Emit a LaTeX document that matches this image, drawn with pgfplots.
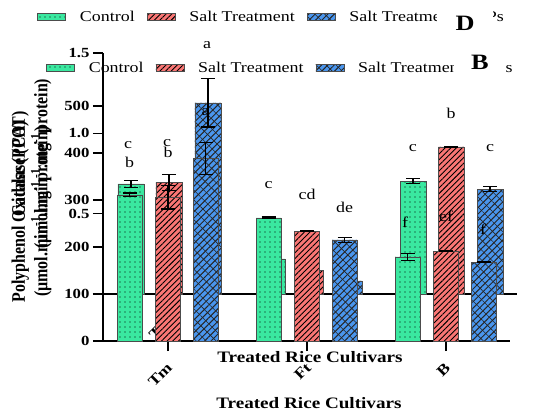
\documentclass[border=0pt]{standalone}
\usepackage{pgfplots}
\pgfplotsset{compat=1.18}
\usetikzlibrary{patterns.meta}
\usepackage{fontspec}
\setmainfont{Liberation Serif}[FakeStretch=1.2]
\newfontfamily\ylfont{Liberation Serif}

\definecolor{cgreen}{RGB}{58,232,160}
\definecolor{cred}{RGB}{250,118,116}
\definecolor{cblue}{RGB}{74,150,238}

\pgfplotsset{
  bargreen/.style={ybar, bar shift=0bp, fill=cgreen, draw=black!70, line width=0.6bp,
    postaction={pattern={Dots[distance=5bp,radius=0.7bp]}, pattern color=black}},
  barred/.style={ybar, bar shift=0bp, fill=cred, draw=black!70, line width=0.6bp,
    postaction={pattern={Lines[angle=45,distance=4bp,line width=0.9bp]}, pattern color=black}},
  barblue/.style={ybar, bar shift=0bp, fill=cblue, draw=black!70, line width=0.6bp,
    postaction={pattern={Lines[angle=45,distance=4.5bp,line width=1bp]}, pattern color=black!85},
    postaction={pattern={Lines[angle=-45,distance=7bp,line width=0.6bp]}, pattern color=black!85}},
  letters/.style={forget plot, only marks, mark=none, nodes near coords,
    point meta=explicit symbolic,
    every node near coord/.append style={anchor=center, font=\fontsize{15}{17}\selectfont, black}},
  common/.style={
    scale only axis, clip=false,
    axis lines=left, axis line style={-, line width=1.6bp},
    tick style={black, line width=1.4bp}, major tick length=10bp, tick align=outside,
    xtick={0,1,2}, xticklabels={Tm,Ft,B},
    x tick label style={xshift=4bp, yshift=-12bp, rotate=45, anchor=east,
      font=\fontsize{15}{17}\selectfont\bfseries},
    y tick label style={font=\fontsize{14}{16}\selectfont\bfseries},
    /pgf/number format/assume math mode=true,
    error bars/y dir=both, error bars/y explicit,
    error bars/error bar style={line width=1.2bp, black},
    error bars/error mark options={rotate=90, mark size=7bp, line width=1.2bp, black},
    xlabel style={anchor=center, font=\fontsize{16}{18}\selectfont\bfseries},
    ylabel style={anchor=center},
    legend columns=3,
    legend cell align=left,
    legend image code/.code={\draw[##1] (0bp,-3.5bp) rectangle (28bp,3.5bp);},
    legend style={draw=none, fill=none, inner sep=0pt, anchor=west,
      font=\fontsize{15}{17}\selectfont,
      /tikz/every odd column/.append style={column sep=12bp},
      /tikz/every even column/.append style={column sep=10bp}},
  }
}

\begin{document}
\begin{tikzpicture}
\useasboundingbox (0,0) rectangle (543bp,412bp);

% panel D (drawn underneath)
\begin{axis}[common,
  at={(103bp,118bp)}, anchor=south west,
  width=414bp, height=241bp,
  xmin=-0.468, xmax=2.468, ymin=0, ymax=1.5,
  ytick={0,0.5,1,1.5}, yticklabels={,0.5,1.0,1.5},
  xlabel={Treated Rice Cultivars},
  xlabel style={at={(axis description cs:0.5,-0.261)}},
  ylabel={\scalebox{1}[1.2]{\ylfont\bfseries\fontsize{16}{17}\selectfont
    \begin{tabular}{@{}c@{}}Catalase (CAT)\\(µmol.min\textsuperscript{-1}.mg\textsuperscript{-1}protein)\end{tabular}}},
  ylabel style={at={(axis description cs:-0.1715,0.54)}},
  legend style={at={(axis description cs:-0.159,1.149)}},
]
\addplot[bargreen, bar width=26bp] coordinates {
  (-0.2695,0.685) +- (0,0.022) (0.7305,0.218) +- (0,0.005) (1.7305,0.703) +- (0,0.015)};
\addlegendentry{Control}
\addplot[barred, bar width=26bp] coordinates {
  (0,0.693) +- (0,0.05) (1,0.149) +- (0,0.005) (2,0.915) +- (0,0)};
\addlegendentry{Salt Treatment}
\addplot[barblue, bar width=26bp] coordinates {
  (0.2766,1.189) +- (0,0.15) (1.2766,0.081) +- (0,0.005) (2.2766,0.653) +- (0,0.015)};
\addlegendentry{Salt Treatment + NPs}
\addplot[letters] coordinates {
  (-0.29,0.927) [c] (-0.014,0.94) [c] (0.27,1.55) [a]
  (1.73,0.909) [c] (2.0,1.127) [b] (2.277,0.909) [c]};
\end{axis}

% panel B (drawn on top)
\begin{axis}[common,
  at={(103bp,71bp)}, anchor=south west,
  width=407bp, height=235bp,
  xmin=-0.468, xmax=2.46, ymin=0, ymax=500,
  ytick={0,100,200,300,400,500},
  xlabel={Treated Rice Cultivars},
  xlabel style={at={(axis description cs:0.506,-0.266)}},
  ylabel={\scalebox{1}[1.2]{\ylfont\bfseries\fontsize{16}{17}\selectfont
    \begin{tabular}{@{}c@{}}Polyphenol Oxidase (PPO)\\(µmol.min\textsuperscript{-1}.mg\textsuperscript{-1}protein)\end{tabular}}},
  ylabel style={at={(axis description cs:-0.1745,0.55)}},
  legend style={at={(axis description cs:-0.14,1.162)}},
]
\addplot[bargreen, bar width=25bp] coordinates {
  (-0.277,311) +- (0,4) (0.723,262) +- (0,2) (1.723,179) +- (0,8)};
\addlegendentry{Control}
\addplot[barred, bar width=25bp] coordinates {
  (0,306) +- (0,25) (1,234) +- (0,1) (2,191) +- (0,1)};
\addlegendentry{Salt Treatment}
\addplot[barblue, bar width=25bp] coordinates {
  (0.27,389) +- (0,34) (1.27,215) +- (0,6) (2.27,168) +- (0,1)};
\addlegendentry{Salt Treatment + NPs}
\addplot[letters] coordinates {
  (-0.277,379) [b] (0,402) [b] (0.27,487) [a]
  (0.723,332) [c] (1,311) [cd] (1.27,285) [de]
  (1.705,253) [f] (2.0,266) [ef] (2.266,238) [f]};
\end{axis}

% panel letters
\node[fill=white, inner sep=0pt, minimum width=56bp, minimum height=30bp,
  font=\fontsize{22}{24}\selectfont\bfseries] at (465bp,389bp) {D};
\node[fill=white, inner sep=0pt, minimum width=52bp, minimum height=22bp,
  font=\fontsize{22}{24}\selectfont\bfseries] at (480bp,350bp) {B};
\end{tikzpicture}
\end{document}
